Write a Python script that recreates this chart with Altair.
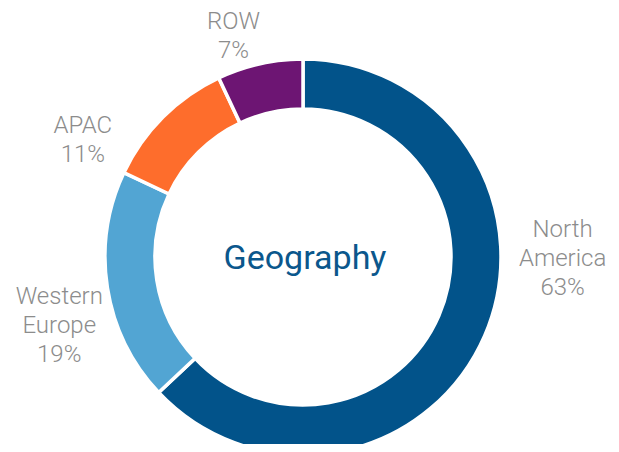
import altair as alt
import pandas as pd

# data
regions = ["North America", "Western Europe", "APAC", "ROW"]
label_lines = ["North\nAmerica", "Western\nEurope", "APAC", "ROW"]
shares = [63, 19, 11, 7]
colors = ["#02538a", "#52a5d3", "#fe6d2c", "#6d1573"]
center_title = "Geography"

# label layout (polar anchor of first label line, degrees clockwise from top; pixel radius)
label_angle = [84.1, 260.7, 300.7, 343.5]
label_radius = [261, 247, 256, 245]

CX, CY = 295, 249

df = pd.DataFrame({
    "region": regions,
    "share": shares,
    "order": list(range(len(regions))),
    "label": [f"{l}\n{s}%" for l, s in zip(label_lines, shares)],
    "ang": label_angle,
    "rad": label_radius,
})

base = alt.Chart(df)

arcs = base.mark_arc(
    outerRadius=198, innerRadius=148, stroke="white", strokeWidth=3.5
).encode(
    theta=alt.Theta("share:Q", stack=True),
    order=alt.Order("order:Q"),
    color=alt.Color("region:N", scale=alt.Scale(domain=regions, range=colors), legend=None),
    x=alt.value(CX),
    y=alt.value(CY),
)

labels = base.mark_text(
    font="Roboto", fontSize=24, fontWeight=300, color="#8c8c8c",
    lineBreak="\n", lineHeight=29, align="center", baseline="middle",
).encode(
    theta=alt.Theta("ang:Q", scale=alt.Scale(domain=[0, 360], range=[0, 6.283185307179586])),
    radius=alt.Radius("rad:Q", scale=None),
    text="label:N",
    x=alt.value(CX),
    y=alt.value(CY),
)

title = alt.Chart(pd.DataFrame({"t": [center_title]})).mark_text(
    font="Roboto", fontSize=34, color="#0b578c", align="center", baseline="middle"
).encode(text="t:N", x=alt.value(CX + 2), y=alt.value(CY + 2))

chart = alt.layer(arcs, labels, title).resolve_scale(theta="independent").properties(
    width=603, height=436, autosize=alt.AutoSizeParams(type="none"), padding=0
).configure_view(stroke=None)

chart.save("out.html", embed_options={"renderer": "svg", "actions": False})
